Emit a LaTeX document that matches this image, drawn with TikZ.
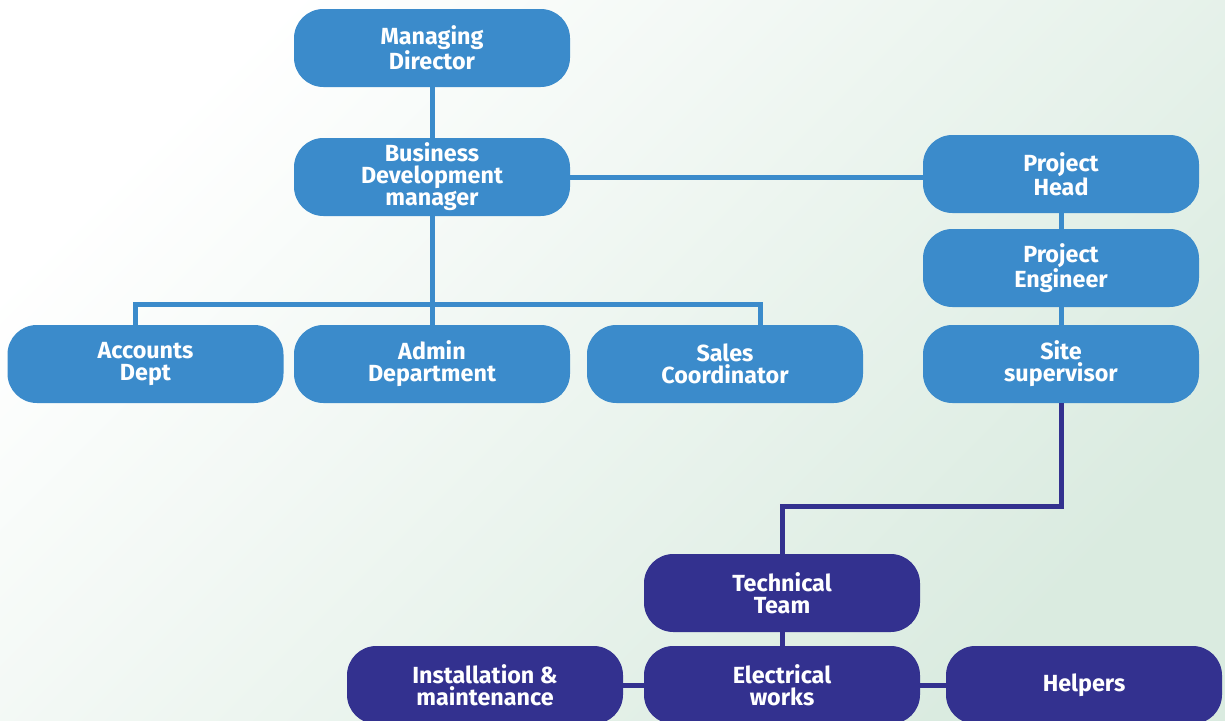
\documentclass[tikz,border=0pt]{standalone}
\usepackage{fontspec}
\setmainfont{Fira Sans}
\usepackage{tikz}
\usetikzlibrary{positioning}
\definecolor{roleblue}{HTML}{3B8BCB}
\definecolor{teamblue}{HTML}{33318F}
\definecolor{bgmint}{HTML}{DAEBE0}
\tikzstyle{role}=[rectangle, rounded corners=22pt, fill=roleblue, text=white, align=center,
  minimum width=207pt, minimum height=58.5pt, inner sep=2pt,
  font=\fontsize{17.5}{16.5}\selectfont\bfseries]
\tikzstyle{team}=[role, fill=teamblue]
\tikzstyle{link}=[draw=roleblue, line width=3.75pt]
\tikzstyle{tlink}=[draw=teamblue, line width=3.75pt]

\begin{document}
\begin{tikzpicture}[x=0.75pt, y=-0.75pt]
% Background
\shade[top color=white, bottom color=bgmint, shading angle=45] (0,0) rectangle (1225,721);
\useasboundingbox (0,0) rectangle (1225,721);

% Office side
\node[role] (md) at (432,48) {Managing\\Director};
\node[role] (bdm) at (432,177) {Business\\Development\\manager};
\node[role] (acc) at (145.5,364) {Accounts\\Dept};
\node[role] (admin) at (432,364) {Admin\\Department};
\node[role] (sales) at (725,364) {Sales\\Coordinator};

% Project side
\node[role] (ph) at (1061,174) {Project\\Head};
\node[role] (pe) at (1061,268) {Project\\Engineer};
\node[role] (ss) at (1061,364) {Site\\supervisor};

% Technical team
\node[team] (tt) at (782,593) {Technical\\Team};
\node[team] (ew) at (782,685) {Electrical\\works};
\node[team] (inst) at (485,685) {Installation \&\\maintenance};
\node[team] (help) at (1084,685) {Helpers};

% Connectors
\coordinate (barL) at (135,304);
\coordinate (barR) at (760,304);
\coordinate (tjoin) at (782,506);

\draw[link] (md) -- (bdm);
\draw[link] (bdm.east) -- (ph.west |- bdm.east);
\draw[link] (bdm) -- (admin);
\draw[link] (acc.north -| barL) -- (barL) -- (barR) -- (sales.north -| barR);
\draw[link] (ph) -- (pe);
\draw[link] (pe) -- (ss);

\draw[tlink] (ss.south) |- (tjoin) -- (tt.north);
\draw[tlink] (tt) -- (ew);
\draw[tlink] (inst) -- (ew);
\draw[tlink] (ew) -- (help);

\end{tikzpicture}
\end{document}
